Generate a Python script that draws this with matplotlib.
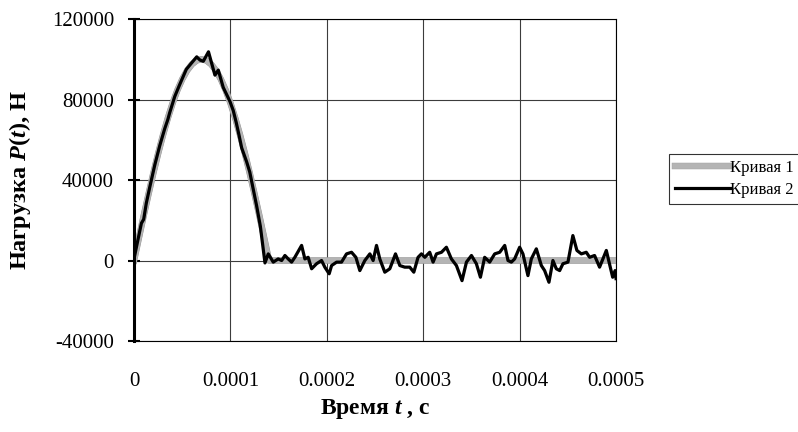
import matplotlib
matplotlib.use('Agg')
import matplotlib.pyplot as plt
import matplotlib.patheffects as pe
from matplotlib.ticker import FixedLocator, FixedFormatter

## Fonts - Times-like serif, bold italic for the symbols in the labels
plt.rcParams['font.family'] = ['Liberation Serif', 'DejaVu Serif']
plt.rcParams['mathtext.fontset'] = 'custom'
plt.rcParams['mathtext.it'] = 'Liberation Serif:bold:italic'
plt.rcParams['mathtext.rm'] = 'Liberation Serif:bold'

## Curve 1 - smooth half-sine load pulse (time in microseconds, load in N)
t1_us = [0, 5, 10, 15, 20, 25, 30, 35, 40, 45, 50, 55, 60, 65, 70,
         75, 80, 85, 90, 95, 100, 105, 110, 115, 120, 125, 130, 135, 140,
         200, 300, 400, 500]
p1 = [0, 11200, 22300, 33000, 43400, 53200, 62300, 70700, 78200, 84700, 90100, 94400, 97500, 99400, 100000,
      99400, 97500, 94400, 90100, 84700, 78200, 70700, 62300, 53200, 43400, 33000, 22300, 11200, 0,
      0, 0, 0, 0]

## Curve 2 - measured (noisy) load
t2_us = [0, 4.1, 7.6, 10.0, 12.7, 16.3, 21.5, 26.6, 31.8, 35.0, 37.0, 42.2, 47.4, 54.2, 61.1, 65.0, 68.4,
         71.8, 77.2, 83.9, 87.4, 92.5, 99.5, 102.9, 106.0, 109.0, 111.6, 116.8, 120.0, 127.2, 131.0, 135.8,
         139.2, 144.4, 149.5, 153.1, 156.5, 159.9, 163.4, 166.8, 173.8, 177.2, 180.6, 184.2, 189.3,
         194.5, 197.9, 202.4, 204.9, 210.1, 215.2, 220.4, 225.6, 230.1, 234.2, 239.4, 244.6, 248.0,
         251.5, 254.9, 260.1, 265.3, 271.2, 275.7, 280.8, 286.0, 290.2, 294.6, 298.1, 301.6, 306.7,
         310.2, 313.7, 318.9, 324.0, 329.2, 334.4, 340.2, 344.8, 350.0, 355.1, 359.3, 363.7, 368.9,
         374.1, 379.3, 384.5, 387.9, 391.4, 394.8, 400.0, 403.4, 408.6, 412.1, 417.3, 422.5, 425.9,
         430.4, 434.5, 438.0, 441.5, 444.9, 450.1, 455.2, 459.4, 464.0, 469.1, 472.6, 477.7, 482.9,
         489.9, 494.0, 496.5, 499.0, 500.0]
p2 = [1000, 10500, 18500, 20500, 28500, 36500, 47500, 57000, 65500, 70000, 73500, 81500, 87500, 95000, 99000, 101200, 99600,
      99000, 103700, 92100, 94600, 86000, 79000, 74500, 68500, 62000, 56000, 49000, 44000, 27000, 17000, -1200,
      3300, -800, 800, 0, 2500, 800, -800, 1600, 7500, 800, 1600, -4100, -1600,
      0, -3300, -6600, -2500, -800, -800, 3300, 4100, 1600, -5000, 0, 3300, 0,
      7500, 800, -5800, -4100, 3300, -2500, -3300, -3300, -5800, 1600, 3300, 1600, 4100,
      -800, 3300, 4100, 6600, 800, -2500, -10000, -800, 2500, -1600, -8300, 1600, -800,
      3300, 4100, 7500, 0, -800, 800, 6600, 3300, -7500, 800, 5800, -2500, -5000,
      -10800, 0, -4100, -5000, -1600, -800, 12400, 5000, 3300, 4100, 1600, 2500, -3300,
      5000, -3300, -8300, -5000, -9000]

x_ticks = [0, 0.0001, 0.0002, 0.0003, 0.0004, 0.0005]
x_ticklabels = ['0', '0.0001', '0.0002', '0.0003', '0.0004', '0.0005']
y_ticks = [-40000, 0, 40000, 80000, 120000]
y_ticklabels = ['-40000', '0', '40000', '80000', '120000']

fig = plt.figure(figsize=(7.98, 4.32), dpi=100)
ax = fig.add_axes([0.168, 0.2106, 0.604, 0.7454])

## Curve 1: wide grey patterned line
t1 = [v * 1e-6 for v in t1_us]
ax.plot(t1, p1, color='#b4b4b4', linewidth=4.2, solid_joinstyle='round', zorder=2,
        label='Кривая 1',
        path_effects=[pe.Stroke(linewidth=4.6, foreground='#8c8c8c'), pe.Normal()])

## Curve 2: black solid line on top
t2 = [v * 1e-6 for v in t2_us]
ax.plot(t2, p2, color='black', linewidth=2.3, solid_joinstyle='round', zorder=3, label='Кривая 2')

ax.set_xlim(0, 0.0005)
ax.set_ylim(-40000, 120000)
ax.xaxis.set_major_locator(FixedLocator(x_ticks))
ax.xaxis.set_major_formatter(FixedFormatter(x_ticklabels))
ax.yaxis.set_major_locator(FixedLocator(y_ticks))
ax.yaxis.set_major_formatter(FixedFormatter(y_ticklabels))

ax.grid(True, color='#3c3c3c', linewidth=0.8, zorder=1)
ax.set_axisbelow(True)
ax.tick_params(axis='x', length=0, pad=22, labelsize=15)
ax.tick_params(axis='y', direction='inout', length=9, width=1.5, pad=10, labelsize=15)

for side in ['top', 'right', 'bottom']:
    ax.spines[side].set_linewidth(0.8)
ax.spines['left'].set_linewidth(2.2)

ax.set_xlabel('Время $t$ , с', fontsize=17, fontweight='bold')
ax.set_ylabel('Нагрузка $P$($t$), Н', fontsize=17.5, fontweight='bold')
ax.xaxis.set_label_coords(0.5, -0.175)
ax.yaxis.set_label_coords(-0.21, 0.5)

leg = fig.legend(loc='center left', bbox_to_anchor=(0.838, 0.586), fontsize=12,
                 handlelength=3.3, handletextpad=0.0, borderpad=0.35, labelspacing=0.35,
                 fancybox=False, frameon=True, borderaxespad=0)
leg.get_frame().set_edgecolor('black')
leg.get_frame().set_linewidth(0.8)

fig.savefig('out.png', dpi=100)
